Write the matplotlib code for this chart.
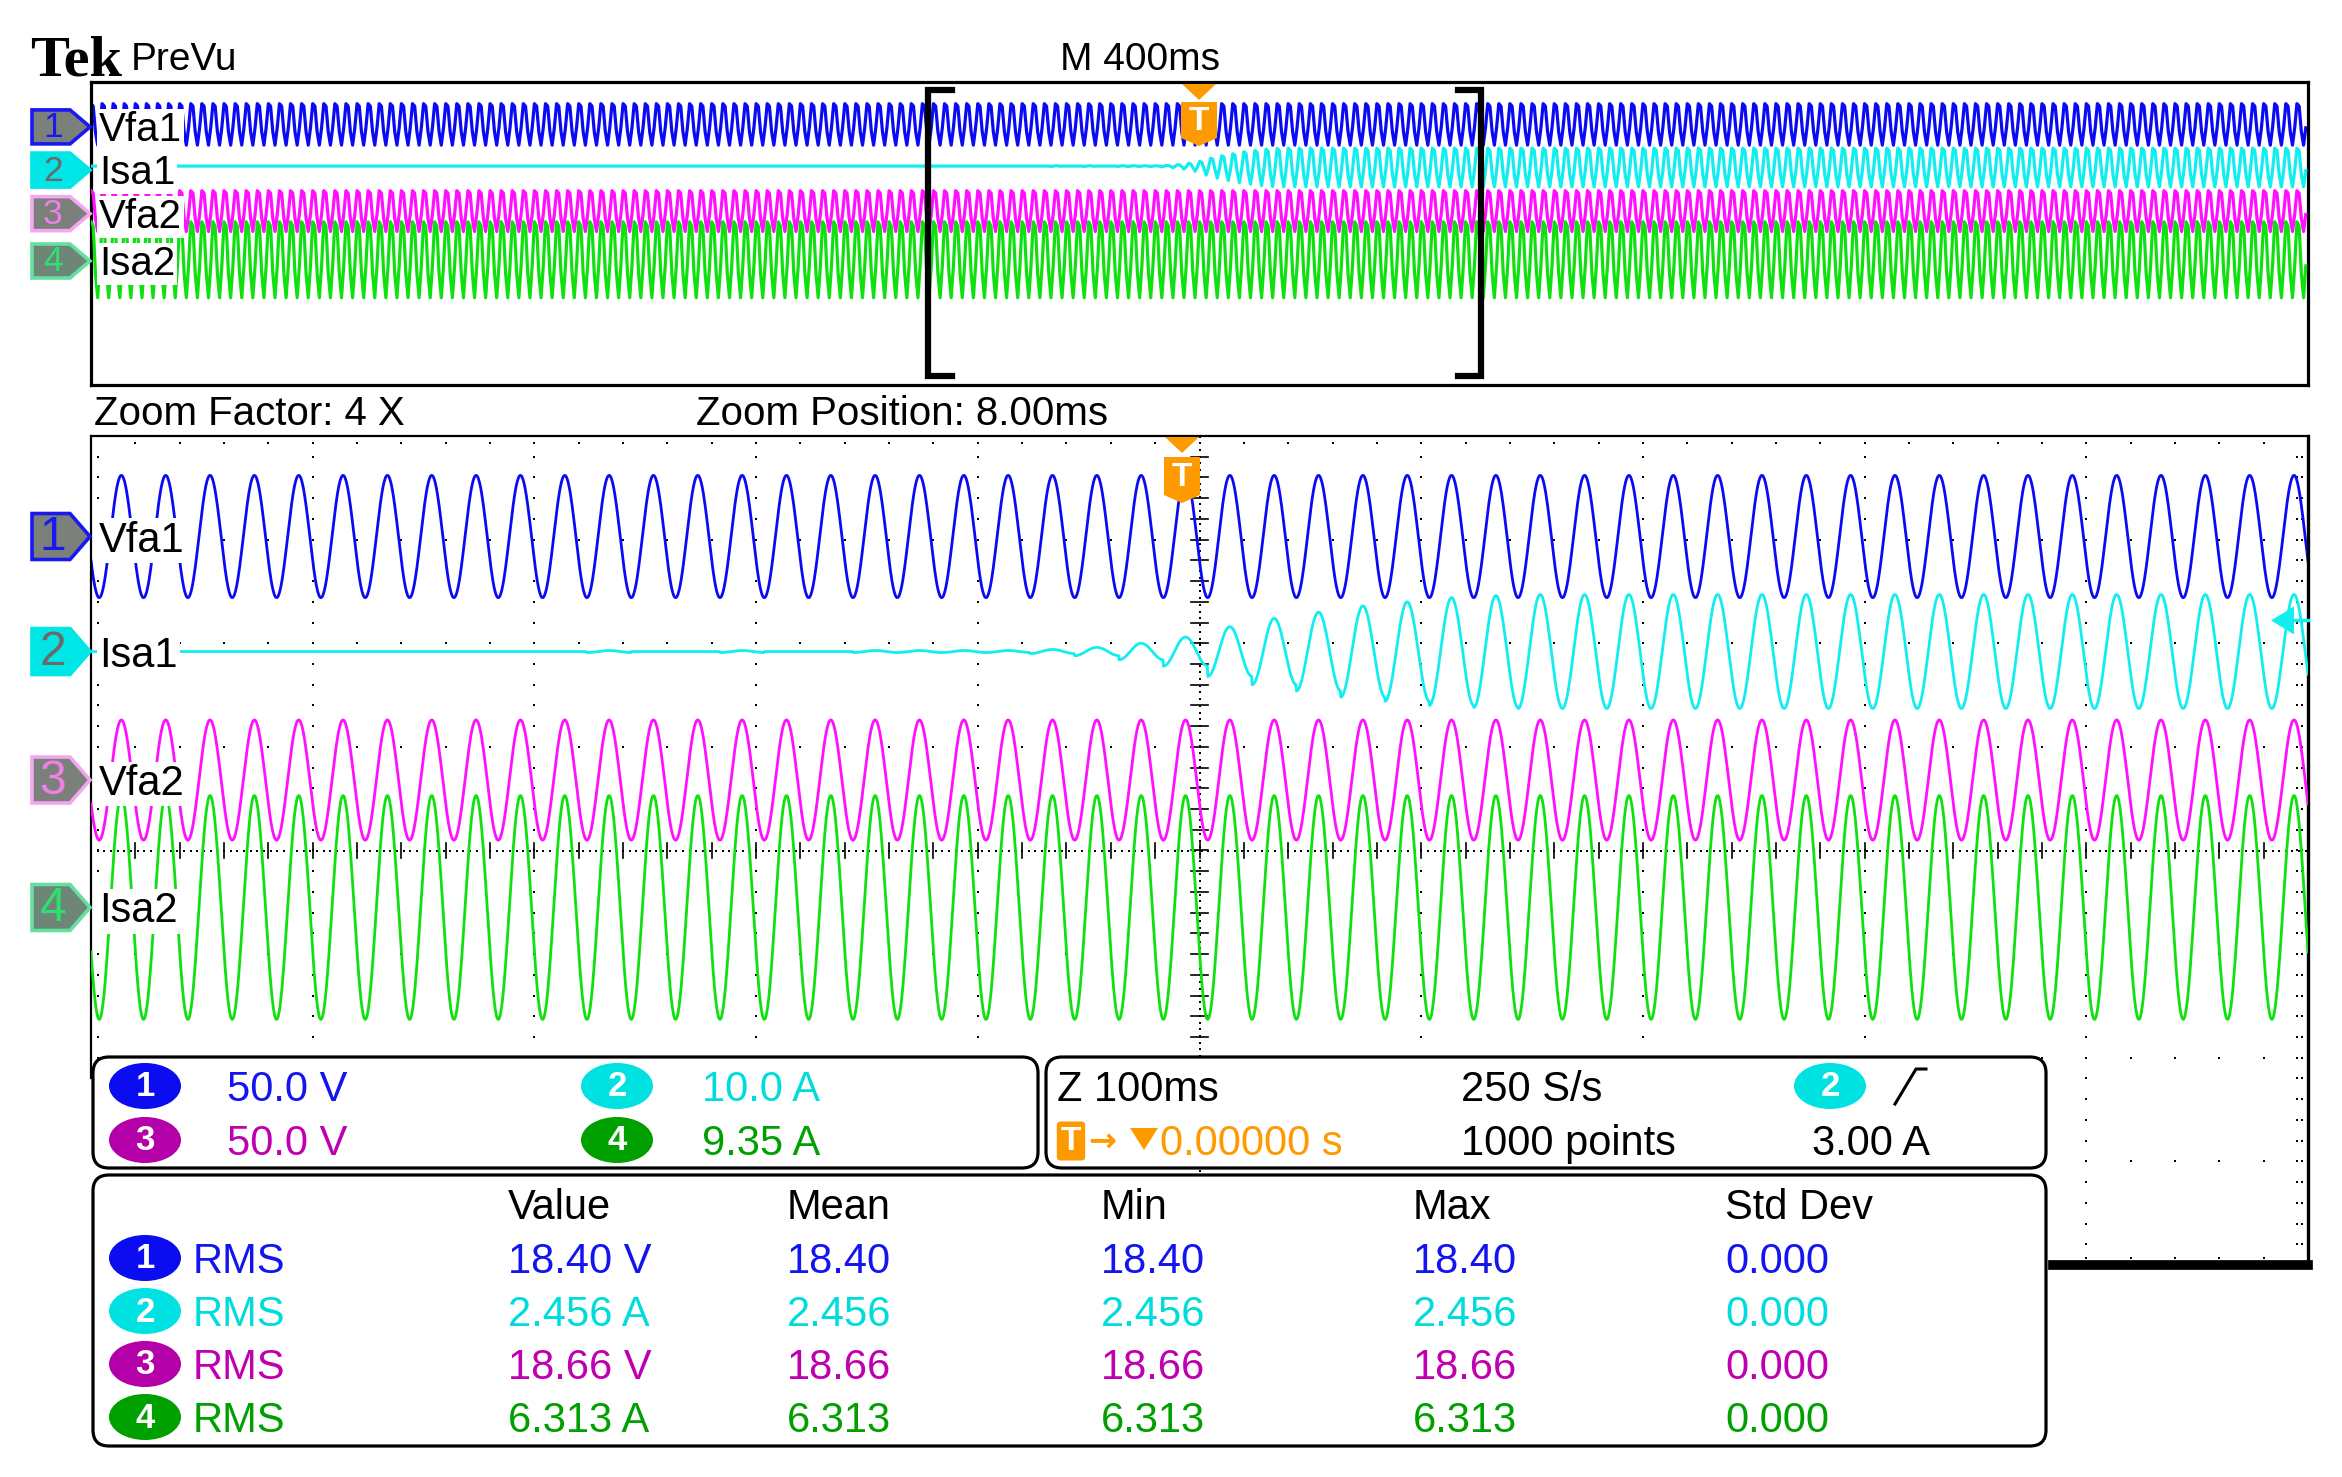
import numpy as np
import matplotlib
matplotlib.use('Agg')
import matplotlib.pyplot as plt
from matplotlib.patches import Polygon, Ellipse, FancyBboxPatch

plt.rcParams['font.family'] = 'Liberation Sans'

W, H = 2342, 1477

# ---- channel data ----
CHANNELS = ['Vfa1', 'Isa1', 'Vfa2', 'Isa2']
CH_OFFSET = [3.03, 1.92, 0.68, -0.55]        # zoom window, divisions
OV_OFFSET = [2.92, 1.78, 0.63, -0.62]        # overview window, divisions
CH_AMPL = [0.59, 0.55, 0.58, 1.08]           # peak amplitude, divisions
TRACE_COLORS = ['#0a0af5', '#12eef0', '#ff10ff', '#10e010']
TEXT_COLORS = ['#1414f0', '#00dcdc', '#c000b0', '#00a000']
BADGE_COLORS = ['#0c0cf0', '#00e2e2', '#b400a8', '#00a000']

FREQ_HZ = 50.0
ZOOM_S_PER_DIV = 0.1
PEAK_POS_DIV = 0.137      # first voltage peak in zoom window
ZOOM_TRIG_DIV = 4.92      # trigger position in zoom window
OV_TRIG_DIV = 5.0         # trigger position in overview
ZOOM_FACTOR = 4
RECORD_POINTS = 1000

# Isa1 peak amplitude per cycle in the zoom window (51 cycles, div)
ISA1_CYCLE_AMP = [0.0, 0.0, 0.0, 0.0, 0.0, 0.0, 0.0, 0.0, 0.0, 0.0,
                  0.0, 0.0, 0.01, 0.0, 0.0, 0.01, 0.0, 0.0, 0.01, 0.01,
                  0.01, 0.01, 0.02, 0.04, 0.08, 0.14, 0.24, 0.32, 0.38, 0.44,
                  0.48, 0.52, 0.54, 0.55, 0.55, 0.55, 0.55, 0.55, 0.55, 0.55,
                  0.55, 0.55, 0.55, 0.55, 0.55, 0.55, 0.55, 0.55, 0.55, 0.55,
                  0.55]

SCALES = ['50.0 V', '10.0 A', '50.0 V', '9.35 A']
MEAS_HEAD = ['Value', 'Mean', 'Min', 'Max', 'Std Dev']
MEAS_ROWS = [['18.40 V', '18.40', '18.40', '18.40', '0.000'],
             ['2.456 A', '2.456', '2.456', '2.456', '0.000'],
             ['18.66 V', '18.66', '18.66', '18.66', '0.000'],
             ['6.313 A', '6.313', '6.313', '6.313', '0.000']]

fig = plt.figure(figsize=(W / 100, H / 100), dpi=100)


def pax(x0, y0, x1, y1, **kw):
    return fig.add_axes([x0 / W, 1 - y1 / H, (x1 - x0) / W, (y1 - y0) / H], **kw)


period_div = 1.0 / FREQ_HZ / ZOOM_S_PER_DIV
isa1_amp = np.array(ISA1_CYCLE_AMP)


def wave(xz, ch):
    ph = np.cos(2 * np.pi * (xz - PEAK_POS_DIV) / period_div)
    if ch == 1:
        k = np.clip(np.round((xz - PEAK_POS_DIV) / period_div).astype(int) + 1, 0, len(isa1_amp) - 1)
        return isa1_amp[k] * ph
    return CH_AMPL[ch] * ph


# ---- overview window ----
ov = pax(91, 82, 2308, 385)
ov.set_xlim(0, 10)
ov.set_ylim(-4, 4)
ov.set_xticks([])
ov.set_yticks([])
for s in ov.spines.values():
    s.set_linewidth(2.3)
xo = np.arange(RECORD_POINTS) * 10.0 / RECORD_POINTS
xo_zoom = ZOOM_TRIG_DIV + (xo - OV_TRIG_DIV) * ZOOM_FACTOR
for ch in range(4):
    ov.plot(xo, OV_OFFSET[ch] + wave(xo_zoom, ch), color=TRACE_COLORS[ch], lw=2.3, zorder=2 + ch)

# ---- zoom window ----
ax = pax(91, 436, 2308, 1265)
ax.set_xlim(0, 10)
ax.set_ylim(-4, 4)
ax.set_xticks([])
ax.set_yticks([])
ax.spines['top'].set_linewidth(1.6)
ax.spines['left'].set_linewidth(1.6)
ax.spines['left'].set_bounds(-2.2, 4)
ax.spines['right'].set_linewidth(2.4)
ax.spines['bottom'].set_linewidth(7)
ax.spines['bottom'].set_bounds(8.85, 10)

dot = dict(ls='none', marker='s', ms=2.0, mew=0, color='black', zorder=1)
ys = np.arange(-3.8, 3.81, 0.2)
xs = np.arange(0.2, 9.81, 0.2)
for i in [1, 2, 3, 4, 6, 7, 8, 9]:
    ax.plot(np.full_like(ys, i), ys, **dot)
for j in [-3, -2, -1, 1, 2, 3]:
    ax.plot(xs, np.full_like(xs, j), **dot)
ax.plot(xs, np.full_like(xs, 3.93), **dot)
ax.plot(xs, np.full_like(xs, -3.93), **dot)
ax.plot(np.full_like(ys, 0.03), ys, **dot)
ax.plot(np.full_like(ys, 9.975), ys, **dot)
ax.plot(np.full_like(ys, 9.95), ys, **dot)
# centre lines
yc = np.arange(-4, 4.001, 0.065)
xc = np.arange(0, 10.001, 0.03)
ax.plot(np.full_like(yc, 5.0), yc, **dot)
ax.plot(xc, np.zeros_like(xc), **dot)
for y in ys:
    ax.plot([4.96, 5.04], [y, y], color='black', lw=1.2, zorder=1)
for x in xs:
    ax.plot([x, x], [-0.07, 0.07], color='black', lw=1.2, zorder=1)

xz = np.linspace(0, 10, 4001)
for ch in range(4):
    ax.plot(xz, CH_OFFSET[ch] + wave(xz, ch), color=TRACE_COLORS[ch], lw=2.0, zorder=2 + ch)

# ---- overlay in pixel coordinates ----
ov_px = lambda off: 82 + (4 - off) * 303 / 8
zm_px = lambda off: 436 + (4 - off) * 829 / 8
top = fig.add_axes([0, 0, 1, 1], zorder=10)
top.set_xlim(0, W)
top.set_ylim(H, 0)
top.axis('off')
top.patch.set_alpha(0)

top.text(30, 76, 'Tek', family='Liberation Serif', weight='bold', fontsize=42, va='baseline')
top.text(131, 70, 'PreVu', fontsize=28, va='baseline')
top.text(1060, 70, 'M 400ms', fontsize=28, va='baseline')
top.text(94, 425, 'Zoom Factor: 4 X', fontsize=29, va='baseline')
top.text(696, 425, 'Zoom Position: 8.00ms', fontsize=29, va='baseline')

BADGE_FILL = ['#7b807b', '#00e6e6', '#7b807b', '#6d8677']
BADGE_EDGE = ['#1818f0', '#00e6e6', '#f4a6f0', '#66e0a0']
BADGE_NUM = ['#1818f0', '#6a6a6a', '#f080e8', '#2ee070']


def badge(cy, h, i):
    pts = [(32, cy - h / 2), (70, cy - h / 2), (90, cy), (70, cy + h / 2), (32, cy + h / 2)]
    top.add_patch(Polygon(pts, closed=True, fc=BADGE_FILL[i], ec=BADGE_EDGE[i], lw=2.6, zorder=3))
    top.text(53, cy + 1, str(i + 1), color=BADGE_NUM[i], fontsize=h * 0.75, ha='center', va='center',
             zorder=4)


for i, name in enumerate(CHANNELS):
    cy_o = ov_px(OV_OFFSET[i]) + 4
    cy_z = zm_px(CH_OFFSET[i])
    badge(cy_o, 34, i)
    badge(cy_z, 46, i)
    bb = dict(fc='white', ec='none', pad=1.5)
    top.text(99, cy_o + 14, name, fontsize=29, va='baseline', bbox=bb, zorder=2)
    top.text(99, cy_z + 15, name, fontsize=30, va='baseline', bbox=bb, zorder=2)

# brackets on overview
for xv, xe in [(928, 952), (1481, 1458)]:
    top.plot([xe, xv, xv, xe], [90, 90, 376, 376], color='black', lw=4.5, solid_joinstyle='miter')

# trigger markers
ORANGE = '#ff9900'


def tmark(cx, y_tri, y_box0, y_box1):
    top.add_patch(Polygon([(cx - 17, y_tri), (cx + 17, y_tri), (cx, y_tri + 16)], fc=ORANGE, ec='none'))
    top.add_patch(Polygon([(cx - 18, y_box0), (cx + 18, y_box0), (cx + 18, y_box1),
                           (cx, y_box1 + 8), (cx - 18, y_box1)], fc=ORANGE, ec='none'))
    top.text(cx, (y_box0 + y_box1) / 2 + 2, 'T', color='white', weight='bold', fontsize=24,
             ha='center', va='center')


tmark(1199, 84, 102, 138)
tmark(1182, 437, 457, 495)

# trigger level arrow on right edge
ty = zm_px(CH_OFFSET[1] + 0.3)
top.add_patch(Polygon([(2271, ty), (2294, ty - 14), (2294, ty + 14)], fc=TRACE_COLORS[1], ec='none'))
top.plot([2290, 2308], [ty, ty], color=TRACE_COLORS[1], lw=2.5)

# ---- info boxes ----
box_kw = dict(boxstyle='round,pad=0,rounding_size=16', fc='white', ec='black', lw=2.3, zorder=5)
top.add_patch(FancyBboxPatch((93, 1057), 945, 111, **box_kw))
top.add_patch(FancyBboxPatch((1046, 1057), 1000, 111, **box_kw))
top.add_patch(FancyBboxPatch((93, 1175), 1953, 271, **box_kw))


def pill(cx, cy, i):
    top.add_patch(Ellipse((cx, cy), 72, 46, fc=BADGE_COLORS[i], ec='none', zorder=6))
    top.text(cx, cy + 1, str(i + 1), color='white', weight='bold', fontsize=25,
             ha='center', va='center', zorder=7)


T_FS = 30
rows_a = [1086, 1140]
for i in range(4):
    col = i % 2
    row = i // 2
    cx = [145, 617][col]
    pill(cx, rows_a[row], i)
    top.text([227, 702][col], rows_a[row] + 15, SCALES[i], color=TEXT_COLORS[i], fontsize=T_FS,
             va='baseline', zorder=7)

top.text(1057, 1101, 'Z 100ms', fontsize=T_FS, va='baseline', zorder=7)
top.text(1461, 1101, '250 S/s', fontsize=T_FS, va='baseline', zorder=7)
pill(1830, 1086, 1)
top.plot([1895, 1916, 1926], [1104, 1069, 1069], color='black', lw=2.2, zorder=7)
top.text(1071, 1141, 'T', color='white', weight='bold', fontsize=24, ha='center', va='center', zorder=7,
         bbox=dict(fc=ORANGE, ec='none', boxstyle='round,pad=0.12'))
top.text(1088, 1141, '\u2192', color=ORANGE, fontsize=24, weight='bold', va='center', zorder=7,
         family='DejaVu Sans')
top.add_patch(Polygon([(1130, 1128), (1158, 1128), (1144, 1150)], fc=ORANGE, ec='none', zorder=7))
top.text(1160, 1155, '0.00000 s', color=ORANGE, fontsize=T_FS, va='baseline', zorder=7)
top.text(1461, 1155, '1000 points', fontsize=T_FS, va='baseline', zorder=7)
top.text(1812, 1155, '3.00 A', fontsize=T_FS, va='baseline', zorder=7)

COLS = [508, 787, 1101, 1413, 1725]
for c, hd in zip(COLS, MEAS_HEAD):
    top.text(c, 1219, hd, fontsize=T_FS, va='baseline', zorder=7)
rows_c = [1258, 1311, 1364, 1417]
for i in range(4):
    pill(145, rows_c[i], i)
    top.text(193, rows_c[i] + 15, 'RMS', color=TEXT_COLORS[i], fontsize=T_FS, va='baseline', zorder=7)
    for c, v in zip(COLS, MEAS_ROWS[i]):
        top.text(c, rows_c[i] + 15, v, color=TEXT_COLORS[i], fontsize=T_FS, va='baseline', zorder=7)

fig.savefig('out.png', dpi=100)
